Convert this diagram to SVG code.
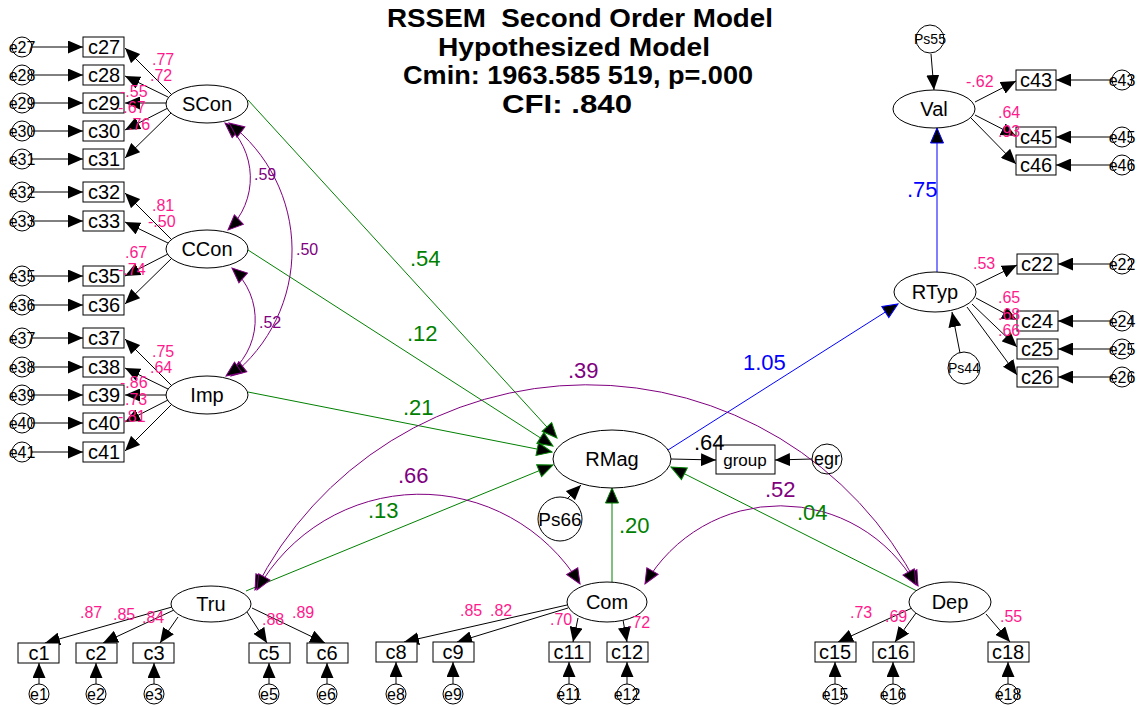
<svg xmlns="http://www.w3.org/2000/svg" width="1139" height="707" viewBox="0 0 1139 707">
<style>
  text { font-family: "Liberation Sans", Arial, sans-serif; }
  .title { font-size: 26px; font-weight: bold; fill: #000; white-space: pre; }
  .box { fill: #fff; stroke: #000; stroke-width: 1; }
  .lat { fill: #fff; stroke: #000; stroke-width: 1; }
  .err { fill: none; stroke: #000; stroke-width: 1; }
  .nt { font-size: 20px; fill: #000; text-anchor: middle; }
  .et { font-size: 16px; fill: #000; text-anchor: middle; }
  .ps { font-size: 14px; fill: #000; text-anchor: middle; }
  .ld { stroke: #000; stroke-width: 1; fill: none; marker-end: url(#ah); }
  .st { stroke: #008000; stroke-width: 1; fill: none; marker-end: url(#ahg); }
  .bl { stroke: #0000ff; stroke-width: 1; fill: none; marker-end: url(#ahb); }
  .cv { stroke: #800080; stroke-width: 1; fill: none; marker-start: url(#ahp); marker-end: url(#ahp); }
  .pk { font-size: 16px; fill: #ff1a8c; }
  .gl { font-size: 22px; fill: #008000; }
  .pl { font-size: 22px; fill: #800080; }
  .ps16 { font-size: 16px; fill: #800080; }
  .bt { font-size: 22px; fill: #0000ff; }
</style>
<defs>
  <marker id="ah" viewBox="0 0 15 13" refX="15" refY="6.5" markerWidth="15" markerHeight="13" markerUnits="userSpaceOnUse" orient="auto-start-reverse">
    <path d="M0,0 L15,6.5 L0,13 z" fill="#000"/>
  </marker>
  <marker id="ahg" viewBox="-1 -1 17 15" refX="15" refY="6.5" markerWidth="17" markerHeight="15" markerUnits="userSpaceOnUse" orient="auto-start-reverse">
    <path d="M0,0 L15,6.5 L0,13 z" fill="#000" stroke="#008000" stroke-width="1"/>
  </marker>
  <marker id="ahb" viewBox="-1 -1 17 15" refX="15" refY="6.5" markerWidth="17" markerHeight="15" markerUnits="userSpaceOnUse" orient="auto-start-reverse">
    <path d="M0,0 L15,6.5 L0,13 z" fill="#000" stroke="#0000ff" stroke-width="1"/>
  </marker>
  <marker id="ahp" viewBox="-1 -1 17 15" refX="15" refY="6.5" markerWidth="17" markerHeight="15" markerUnits="userSpaceOnUse" orient="auto-start-reverse">
    <path d="M0,0 L15,6.5 L0,13 z" fill="#000" stroke="#800080" stroke-width="1"/>
  </marker>
</defs>

<rect x="0" y="0" width="1139" height="707" fill="#fff"/>

<!-- title block -->
<g id="title">
  <text class="title" x="387" y="27" textLength="386" lengthAdjust="spacingAndGlyphs" xml:space="preserve">RSSEM  Second Order Model</text>
  <text class="title" x="438" y="56" textLength="272" lengthAdjust="spacingAndGlyphs">Hypothesized Model</text>
  <text class="title" x="403" y="84" textLength="350" lengthAdjust="spacingAndGlyphs">Cmin: 1963.585 519, p=.000</text>
  <text class="title" x="502" y="113" textLength="130" lengthAdjust="spacingAndGlyphs">CFI: .840</text>
</g>

<g id="connectors">
  <!-- error terms into left indicators -->
  <line class="ld" x1="32" y1="47" x2="83" y2="47"/>
  <line class="ld" x1="32" y1="75" x2="83" y2="75"/>
  <line class="ld" x1="32" y1="103" x2="83" y2="103"/>
  <line class="ld" x1="32" y1="131" x2="83" y2="131"/>
  <line class="ld" x1="32" y1="159" x2="83" y2="159"/>
  <line class="ld" x1="32" y1="192" x2="83" y2="192"/>
  <line class="ld" x1="32" y1="221" x2="83" y2="221"/>
  <line class="ld" x1="32" y1="276" x2="83" y2="276"/>
  <line class="ld" x1="32" y1="305" x2="83" y2="305"/>
  <line class="ld" x1="32" y1="338" x2="83" y2="338"/>
  <line class="ld" x1="32" y1="367" x2="83" y2="367"/>
  <line class="ld" x1="32" y1="395" x2="83" y2="395"/>
  <line class="ld" x1="32" y1="423" x2="83" y2="423"/>
  <line class="ld" x1="32" y1="452" x2="83" y2="452"/>
  <!-- SCon loadings -->
  <line class="ld" x1="172" y1="95" x2="125" y2="48"/>
  <line class="ld" x1="168" y1="97" x2="125" y2="76"/>
  <line class="ld" x1="167" y1="103" x2="125" y2="103"/>
  <line class="ld" x1="168" y1="108" x2="125" y2="130"/>
  <line class="ld" x1="172" y1="112" x2="125" y2="158"/>
  <!-- CCon loadings -->
  <line class="ld" x1="172" y1="240" x2="125" y2="193"/>
  <line class="ld" x1="168" y1="243" x2="125" y2="222"/>
  <line class="ld" x1="168" y1="254" x2="125" y2="276"/>
  <line class="ld" x1="172" y1="258" x2="125" y2="304"/>
  <!-- Imp loadings -->
  <line class="ld" x1="172" y1="386" x2="125" y2="339"/>
  <line class="ld" x1="168" y1="389" x2="125" y2="368"/>
  <line class="ld" x1="167" y1="395" x2="125" y2="395"/>
  <line class="ld" x1="168" y1="400" x2="125" y2="422"/>
  <line class="ld" x1="172" y1="404" x2="125" y2="451"/>

  <!-- Tru loadings -->
  <line class="ld" x1="172" y1="607" x2="45" y2="643"/>
  <line class="ld" x1="174" y1="610" x2="103" y2="643"/>
  <line class="ld" x1="178" y1="617" x2="160" y2="643"/>
  <line class="ld" x1="247" y1="612" x2="267" y2="643"/>
  <line class="ld" x1="252" y1="608" x2="325" y2="643"/>
  <!-- Com loadings -->
  <line class="ld" x1="567" y1="605" x2="404" y2="642"/>
  <line class="ld" x1="568" y1="608" x2="457" y2="642"/>
  <line class="ld" x1="578" y1="618" x2="573" y2="642"/>
  <line class="ld" x1="623" y1="620" x2="627" y2="642"/>
  <!-- Dep loadings -->
  <line class="ld" x1="912" y1="608" x2="838" y2="642"/>
  <line class="ld" x1="916" y1="613" x2="895" y2="642"/>
  <line class="ld" x1="986" y1="614" x2="1010" y2="642"/>
  <!-- bottom error terms -->
  <line class="ld" x1="39" y1="684" x2="39" y2="663"/>
  <line class="ld" x1="96" y1="684" x2="96" y2="663"/>
  <line class="ld" x1="154" y1="684" x2="154" y2="663"/>
  <line class="ld" x1="269" y1="684" x2="269" y2="663"/>
  <line class="ld" x1="327" y1="684" x2="327" y2="663"/>
  <line class="ld" x1="396" y1="684" x2="396" y2="662"/>
  <line class="ld" x1="453" y1="684" x2="453" y2="662"/>
  <line class="ld" x1="569" y1="684" x2="569" y2="662"/>
  <line class="ld" x1="627" y1="684" x2="627" y2="662"/>
  <line class="ld" x1="835" y1="684" x2="835" y2="662"/>
  <line class="ld" x1="893" y1="684" x2="893" y2="662"/>
  <line class="ld" x1="1008" y1="684" x2="1008" y2="662"/>

  <!-- Val block -->
  <line class="ld" x1="931" y1="54" x2="934" y2="90"/>
  <line class="ld" x1="975" y1="102" x2="1016" y2="81"/>
  <line class="ld" x1="975" y1="115" x2="1016" y2="136"/>
  <line class="ld" x1="971" y1="118" x2="1016" y2="164"/>
  <line class="ld" x1="1112" y1="80" x2="1056" y2="80"/>
  <line class="ld" x1="1112" y1="137" x2="1056" y2="137"/>
  <line class="ld" x1="1112" y1="165" x2="1056" y2="165"/>
  <!-- RTyp block -->
  <line class="ld" x1="960" y1="353" x2="952" y2="312"/>
  <line class="ld" x1="976" y1="285" x2="1017" y2="265"/>
  <line class="ld" x1="976" y1="298" x2="1017" y2="320"/>
  <line class="ld" x1="972" y1="304" x2="1017" y2="347"/>
  <line class="ld" x1="967" y1="307" x2="1017" y2="375"/>
  <line class="ld" x1="1112" y1="264" x2="1058" y2="264"/>
  <line class="ld" x1="1112" y1="321" x2="1058" y2="321"/>
  <line class="ld" x1="1112" y1="349" x2="1058" y2="349"/>
  <line class="ld" x1="1112" y1="377" x2="1058" y2="377"/>

  <!-- RMag outputs and disturbances -->
  <line class="ld" x1="567" y1="499" x2="581" y2="485"/>
  <line class="ld" x1="671" y1="459" x2="716" y2="460"/>
  <line class="ld" x1="812" y1="459" x2="775" y2="460"/>

  <!-- structural paths -->
  <line class="st" x1="248" y1="100" x2="557" y2="438"/>
  <line class="st" x1="248" y1="250" x2="553" y2="446"/>
  <line class="st" x1="248" y1="392" x2="552" y2="452"/>
  <line class="st" x1="246" y1="591" x2="553" y2="465"/>
  <line class="st" x1="612" y1="582" x2="612" y2="488"/>
  <line class="st" x1="917" y1="591" x2="671" y2="467"/>
  <line class="bl" x1="668" y1="450" x2="898" y2="304"/>
  <line class="bl" x1="937" y1="272" x2="937" y2="128"/>

  <!-- covariances -->
  <path class="cv" d="M225,123 A72,72 0 0 1 228,230"/>
  <path class="cv" d="M229,123 A160,160 0 0 1 231,376"/>
  <path class="cv" d="M232,268 A69,69 0 0 1 226,376"/>
  <path class="cv" d="M255,590 A372,372 0 0 1 918,586"/>
  <path class="cv" d="M257,590 A187,187 0 0 1 580,584"/>
  <path class="cv" d="M645,584 A156,156 0 0 1 916,585"/>
</g>

<!-- latent factors -->
<g id="SCon"><ellipse class="lat" cx="207" cy="104" rx="41" ry="19"/><text class="nt" x="207" y="111">SCon</text></g>
<g id="CCon"><ellipse class="lat" cx="207" cy="249" rx="41" ry="19"/><text class="nt" x="207" y="256">CCon</text></g>
<g id="Imp"><ellipse class="lat" cx="207" cy="395" rx="41" ry="19"/><text class="nt" x="207" y="402">Imp</text></g>
<g id="Tru"><ellipse class="lat" cx="211" cy="604" rx="40" ry="18"/><text class="nt" x="211" y="611">Tru</text></g>
<g id="Com"><ellipse class="lat" cx="607" cy="602" rx="40" ry="20"/><text class="nt" x="607" y="609">Com</text></g>
<g id="Dep"><ellipse class="lat" cx="950" cy="602" rx="41" ry="20"/><text class="nt" x="950" y="609">Dep</text></g>
<g id="RMag"><ellipse class="lat" cx="612" cy="459" rx="59" ry="29"/><text class="nt" x="612" y="466">RMag</text></g>
<g id="Val"><ellipse class="lat" cx="934" cy="109" rx="41" ry="19"/><text class="nt" x="934" y="116">Val</text></g>
<g id="RTyp"><ellipse class="lat" cx="935" cy="292" rx="41" ry="20"/><text class="nt" x="935" y="299">RTyp</text></g>

<!-- disturbances -->
<g id="Ps55"><circle class="err" cx="930" cy="39" r="14"/><text class="ps" x="930" y="44">Ps55</text></g>
<g id="Ps44"><circle class="err" cx="964" cy="368" r="16"/><text class="ps" x="964" y="373">Ps44</text></g>
<g id="Ps66"><circle class="err" cx="560" cy="519" r="22"/><text class="et" x="560" y="526" style="font-size:19px">Ps66</text></g>
<g id="egr"><circle class="err" cx="827" cy="459" r="15"/><text class="et" x="827" y="465" style="font-size:18px">egr</text></g>
<g id="group"><rect class="box" x="716" y="445" width="59" height="29"/><text class="et" x="745" y="466" style="font-size:17px">group</text></g>

<!-- left indicators -->
<g id="c27"><rect class="box" x="83" y="37" width="41" height="20"/><text class="nt" x="104" y="54">c27</text></g>
<g id="c28"><rect class="box" x="83" y="65" width="41" height="20"/><text class="nt" x="104" y="82">c28</text></g>
<g id="c29"><rect class="box" x="83" y="93" width="41" height="20"/><text class="nt" x="104" y="110">c29</text></g>
<g id="c30"><rect class="box" x="83" y="121" width="41" height="20"/><text class="nt" x="104" y="138">c30</text></g>
<g id="c31"><rect class="box" x="83" y="149" width="41" height="20"/><text class="nt" x="104" y="166">c31</text></g>
<g id="c32"><rect class="box" x="83" y="182" width="41" height="20"/><text class="nt" x="104" y="199">c32</text></g>
<g id="c33"><rect class="box" x="83" y="211" width="41" height="20"/><text class="nt" x="104" y="228">c33</text></g>
<g id="c35"><rect class="box" x="83" y="266" width="41" height="20"/><text class="nt" x="104" y="283">c35</text></g>
<g id="c36"><rect class="box" x="83" y="295" width="41" height="20"/><text class="nt" x="104" y="312">c36</text></g>
<g id="c37"><rect class="box" x="83" y="328" width="41" height="20"/><text class="nt" x="104" y="345">c37</text></g>
<g id="c38"><rect class="box" x="83" y="357" width="41" height="20"/><text class="nt" x="104" y="374">c38</text></g>
<g id="c39"><rect class="box" x="83" y="385" width="41" height="20"/><text class="nt" x="104" y="402">c39</text></g>
<g id="c40"><rect class="box" x="83" y="413" width="41" height="20"/><text class="nt" x="104" y="430">c40</text></g>
<g id="c41"><rect class="box" x="83" y="442" width="41" height="20"/><text class="nt" x="104" y="459">c41</text></g>

<!-- left error terms -->
<g id="e27"><circle class="err" cx="22" cy="47" r="10"/><text class="et" x="22" y="53">e27</text></g>
<g id="e28"><circle class="err" cx="22" cy="75" r="10"/><text class="et" x="22" y="81">e28</text></g>
<g id="e29"><circle class="err" cx="22" cy="103" r="10"/><text class="et" x="22" y="109">e29</text></g>
<g id="e30"><circle class="err" cx="22" cy="131" r="10"/><text class="et" x="22" y="137">e30</text></g>
<g id="e31"><circle class="err" cx="22" cy="159" r="10"/><text class="et" x="22" y="165">e31</text></g>
<g id="e32"><circle class="err" cx="22" cy="192" r="10"/><text class="et" x="22" y="198">e32</text></g>
<g id="e33"><circle class="err" cx="22" cy="221" r="10"/><text class="et" x="22" y="227">e33</text></g>
<g id="e35"><circle class="err" cx="22" cy="276" r="10"/><text class="et" x="22" y="282">e35</text></g>
<g id="e36"><circle class="err" cx="22" cy="305" r="10"/><text class="et" x="22" y="311">e36</text></g>
<g id="e37"><circle class="err" cx="22" cy="338" r="10"/><text class="et" x="22" y="344">e37</text></g>
<g id="e38"><circle class="err" cx="22" cy="367" r="10"/><text class="et" x="22" y="373">e38</text></g>
<g id="e39"><circle class="err" cx="22" cy="395" r="10"/><text class="et" x="22" y="401">e39</text></g>
<g id="e40"><circle class="err" cx="22" cy="423" r="10"/><text class="et" x="22" y="429">e40</text></g>
<g id="e41"><circle class="err" cx="22" cy="452" r="10"/><text class="et" x="22" y="458">e41</text></g>

<!-- bottom indicators -->
<g id="c1"><rect class="box" x="18" y="643" width="41" height="20"/><text class="nt" x="39" y="660">c1</text></g>
<g id="c2"><rect class="box" x="76" y="643" width="41" height="20"/><text class="nt" x="96" y="660">c2</text></g>
<g id="c3"><rect class="box" x="133" y="643" width="41" height="20"/><text class="nt" x="154" y="660">c3</text></g>
<g id="c5"><rect class="box" x="249" y="643" width="41" height="20"/><text class="nt" x="269" y="660">c5</text></g>
<g id="c6"><rect class="box" x="307" y="643" width="41" height="20"/><text class="nt" x="327" y="660">c6</text></g>
<g id="c8"><rect class="box" x="376" y="642" width="41" height="20"/><text class="nt" x="396" y="659">c8</text></g>
<g id="c9"><rect class="box" x="433" y="642" width="41" height="20"/><text class="nt" x="453" y="659">c9</text></g>
<g id="c11"><rect class="box" x="549" y="642" width="41" height="20"/><text class="nt" x="569" y="659">c11</text></g>
<g id="c12"><rect class="box" x="607" y="642" width="41" height="20"/><text class="nt" x="627" y="659">c12</text></g>
<g id="c15"><rect class="box" x="815" y="642" width="41" height="20"/><text class="nt" x="835" y="659">c15</text></g>
<g id="c16"><rect class="box" x="873" y="642" width="41" height="20"/><text class="nt" x="893" y="659">c16</text></g>
<g id="c18"><rect class="box" x="988" y="642" width="41" height="20"/><text class="nt" x="1008" y="659">c18</text></g>

<!-- bottom error terms -->
<g id="e1"><circle class="err" cx="39" cy="694" r="10"/><text class="et" x="39" y="700">e1</text></g>
<g id="e2"><circle class="err" cx="96" cy="694" r="10"/><text class="et" x="96" y="700">e2</text></g>
<g id="e3"><circle class="err" cx="154" cy="694" r="10"/><text class="et" x="154" y="700">e3</text></g>
<g id="e5"><circle class="err" cx="269" cy="694" r="10"/><text class="et" x="269" y="700">e5</text></g>
<g id="e6"><circle class="err" cx="327" cy="694" r="10"/><text class="et" x="327" y="700">e6</text></g>
<g id="e8"><circle class="err" cx="396" cy="694" r="10"/><text class="et" x="396" y="700">e8</text></g>
<g id="e9"><circle class="err" cx="453" cy="694" r="10"/><text class="et" x="453" y="700">e9</text></g>
<g id="e11"><circle class="err" cx="569" cy="694" r="10"/><text class="et" x="569" y="700">e11</text></g>
<g id="e12"><circle class="err" cx="627" cy="694" r="10"/><text class="et" x="627" y="700">e12</text></g>
<g id="e15"><circle class="err" cx="835" cy="694" r="10"/><text class="et" x="835" y="700">e15</text></g>
<g id="e16"><circle class="err" cx="893" cy="694" r="10"/><text class="et" x="893" y="700">e16</text></g>
<g id="e18"><circle class="err" cx="1008" cy="694" r="10"/><text class="et" x="1008" y="700">e18</text></g>

<!-- right indicators -->
<g id="c43"><rect class="box" x="1016" y="70" width="40" height="20"/><text class="nt" x="1036" y="87">c43</text></g>
<g id="c45"><rect class="box" x="1016" y="127" width="40" height="20"/><text class="nt" x="1036" y="144">c45</text></g>
<g id="c46"><rect class="box" x="1016" y="155" width="40" height="20"/><text class="nt" x="1036" y="172">c46</text></g>
<g id="c22"><rect class="box" x="1017" y="254" width="41" height="20"/><text class="nt" x="1037" y="271">c22</text></g>
<g id="c24"><rect class="box" x="1017" y="311" width="41" height="20"/><text class="nt" x="1037" y="328">c24</text></g>
<g id="c25"><rect class="box" x="1017" y="339" width="41" height="20"/><text class="nt" x="1037" y="356">c25</text></g>
<g id="c26"><rect class="box" x="1017" y="367" width="41" height="20"/><text class="nt" x="1037" y="384">c26</text></g>

<!-- right error terms -->
<g id="e43"><circle class="err" cx="1122" cy="80" r="10"/><text class="et" x="1122" y="86">e43</text></g>
<g id="e45"><circle class="err" cx="1122" cy="137" r="10"/><text class="et" x="1122" y="143">e45</text></g>
<g id="e46"><circle class="err" cx="1122" cy="165" r="10"/><text class="et" x="1122" y="171">e46</text></g>
<g id="e22"><circle class="err" cx="1122" cy="264" r="10"/><text class="et" x="1122" y="270">e22</text></g>
<g id="e24"><circle class="err" cx="1122" cy="321" r="10"/><text class="et" x="1122" y="327">e24</text></g>
<g id="e25"><circle class="err" cx="1122" cy="349" r="10"/><text class="et" x="1122" y="355">e25</text></g>
<g id="e26"><circle class="err" cx="1122" cy="377" r="10"/><text class="et" x="1122" y="383">e26</text></g>

<!-- estimates -->
<g id="estimates">
  <text class="pk" x="152" y="65">.77</text>
  <text class="pk" x="150" y="81">.72</text>
  <text class="pk" x="120" y="97">-.55</text>
  <text class="pk" x="118" y="113">-.67</text>
  <text class="pk" x="128" y="130">.76</text>
  <text class="pk" x="152" y="211">.81</text>
  <text class="pk" x="148" y="227">-.50</text>
  <text class="pk" x="125" y="258">.67</text>
  <text class="pk" x="118" y="275">-.74</text>
  <text class="pk" x="152" y="357">.75</text>
  <text class="pk" x="150" y="373">.64</text>
  <text class="pk" x="120" y="388">-.86</text>
  <text class="pk" x="125" y="405">.73</text>
  <text class="pk" x="118" y="422">-.81</text>

  <text class="pk" x="80" y="618">.87</text>
  <text class="pk" x="113" y="620">.85</text>
  <text class="pk" x="142" y="623">.84</text>
  <text class="pk" x="262" y="625">.88</text>
  <text class="pk" x="292" y="618">.89</text>
  <text class="pk" x="460" y="616">.85</text>
  <text class="pk" x="490" y="616">.82</text>
  <text class="pk" x="550" y="625">.70</text>
  <text class="pk" x="628" y="628">.72</text>
  <text class="pk" x="850" y="618">.73</text>
  <text class="pk" x="885" y="622">.69</text>
  <text class="pk" x="1000" y="622">.55</text>

  <text class="pk" x="966" y="87">-.62</text>
  <text class="pk" x="998" y="118">.64</text>
  <text class="pk" x="998" y="137">.93</text>
  <text class="pk" x="973" y="269">.53</text>
  <text class="pk" x="998" y="303">.65</text>
  <text class="pk" x="998" y="320">.68</text>
  <text class="pk" x="998" y="336">.66</text>

  <text class="ps16" x="254" y="180">.59</text>
  <text class="ps16" x="296" y="255">.50</text>
  <text class="ps16" x="259" y="328">.52</text>

  <text class="gl" x="410" y="266">.54</text>
  <text class="gl" x="407" y="341">.12</text>
  <text class="gl" x="403" y="415">.21</text>
  <text class="gl" x="368" y="518">.13</text>
  <text class="gl" x="619" y="533">.20</text>
  <text class="gl" x="797" y="520">.04</text>
  <text class="pl" x="568" y="378">.39</text>
  <text class="pl" x="398" y="483">.66</text>
  <text class="pl" x="765" y="497">.52</text>
  <text class="bt" x="743" y="370">1.05</text>
  <text class="bt" x="907" y="197">.75</text>
  <text x="694" y="450" style="font-size:22px;fill:#000">.64</text>
</g>
</svg>
